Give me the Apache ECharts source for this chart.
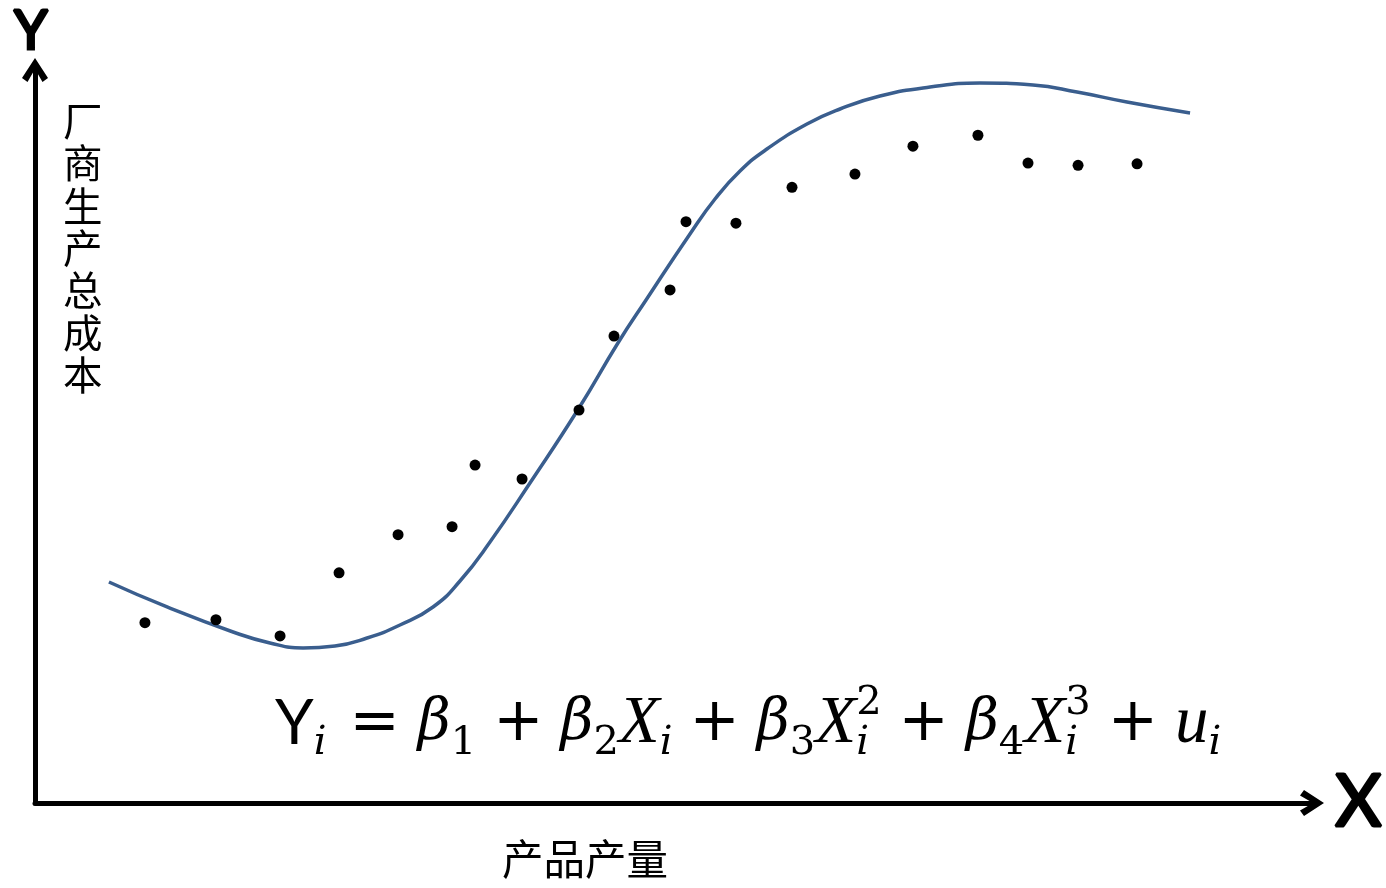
<!DOCTYPE html>
<html>
<head>
<meta charset="utf-8">
<script src="https://cdn.jsdelivr.net/npm/echarts@6/dist/echarts.min.js"></script>
<style>
html,body{margin:0;padding:0;background:#fff;}
#chart{width:1386px;height:888px;}
</style>
</head>
<body>
<div id="chart"></div>
<script>
// Observed data points (x: product output, y: total cost), arbitrary units 0-100
const dotX = [8.61, 14.17, 19.19, 23.81, 28.43, 32.66, 34.46, 38.14, 42.60, 45.34, 49.73, 50.98, 54.89, 59.28, 64.21, 68.75, 73.84, 77.76, 81.68, 86.30];
const dotY = [24.6, 25.0, 22.8, 31.4, 36.6, 37.7, 46.1, 44.2, 53.6, 63.7, 70.0, 79.3, 79.1, 84.0, 85.8, 89.6, 91.1, 87.3, 87.0, 87.2];

// Fitted cubic cost curve
const curveX = [5.79, 10.34, 15.51, 18.40, 20.99, 23.49, 26.00, 28.58, 31.17, 33.28, 35.63, 38.76, 42.60, 45.65, 47.85, 51.29, 53.25, 55.21, 57.32, 60.45, 63.04, 66.17, 70.09, 74.00, 78.15, 81.60, 85.51, 90.45];
const curveY = [30.15, 26.74, 23.33, 21.83, 21.15, 21.42, 22.51, 24.28, 26.74, 30.29, 35.61, 43.66, 53.89, 62.76, 68.62, 77.63, 82.40, 86.22, 89.22, 92.63, 94.68, 96.45, 97.68, 98.23, 97.95, 97.00, 95.63, 94.13];

const yAxisLetter = 'Y';
const xAxisLetter = 'X';
const yAxisTitle = ['厂', '商', '生', '产', '总', '成', '本'];
const xAxisTitle = '产品产量';

const chevron = 'path://M13,0 L26,20 L20.5,24 L13,11 L5.5,24 L0,20 Z';

const chart = echarts.init(document.getElementById('chart'), null, {renderer: 'canvas'});

const axisCommon = {
  type: 'value', min: 0, max: 100,
  axisLabel: {show: false}, axisTick: {show: false}, splitLine: {show: false},
  axisLine: {
    show: true, onZero: false,
    symbol: ['none', chevron], symbolSize: [26, 24],
    lineStyle: {color: '#000', width: 5, cap: 'round'}
  }
};

const base = {color: '#000', fontWeight: 'normal'};
const rs = (o) => Object.assign({}, base, o);

chart.setOption({
  animation: false,
  backgroundColor: '#fff',
  grid: {left: 35, right: 74, top: 70, bottom: 85, containLabel: false},
  xAxis: Object.assign({}, axisCommon),
  yAxis: Object.assign({}, axisCommon),
  title: [
    {
      text: yAxisLetter, left: 14, top: 5, padding: 0,
      textStyle: {fontFamily: 'Lato', fontSize: 54, fontWeight: 'normal', color: '#000', textBorderColor: '#000', textBorderWidth: 3}
    },
    {
      text: xAxisLetter, left: 1335, top: 767, padding: 0,
      textStyle: {fontFamily: 'Lato', fontSize: 72, fontWeight: 'normal', color: '#000', textBorderColor: '#000', textBorderWidth: 3}
    },
    {
      text: yAxisTitle.join('\n'), left: 63, top: 100, padding: 0,
      textStyle: {fontFamily: 'Noto Sans CJK SC', fontSize: 39.5, lineHeight: 42.3, fontWeight: 'normal', color: '#000'}
    },
    {
      text: xAxisTitle, left: 502, top: 838, padding: 0,
      textStyle: {fontFamily: 'Noto Sans CJK SC', fontSize: 41.5, fontWeight: 'normal', color: '#000'}
    },
    {
      text: '{Y|Y}{si|i}{eq|=}{b|β}{sd|1}{op|+}{b|β}{sd|2}{x|X}{si|i}{op|+}{b|β}{sd|3}{x|X}{sz|i}{su|2}{op|+}{b|β}{sd|4}{x|X}{sz|i}{su|3}{op|+}{x|u}{si|i}',
      left: 275, top: 684, padding: 0,
      textStyle: {
        fontWeight: 'normal',
        rich: {
          Y: rs({fontFamily: 'Lato', fontSize: 62, lineHeight: 80}),
          b: rs({fontFamily: 'DejaVu Serif', fontStyle: 'italic', fontSize: 57, lineHeight: 80}),
          x: rs({fontFamily: 'Liberation Serif', fontStyle: 'italic', fontSize: 67, lineHeight: 80}),
          eq: rs({fontFamily: 'DejaVu Sans', fontSize: 60, lineHeight: 80, padding: [0, 18, 0, 23]}),
          op: rs({fontFamily: 'DejaVu Sans', fontSize: 60, lineHeight: 80, padding: [0, 17, 0, 17]}),
          si: rs({fontFamily: 'DejaVu Serif', fontStyle: 'italic', fontSize: 40, lineHeight: 42, verticalAlign: 'bottom'}),
          sz: rs({fontFamily: 'DejaVu Serif', fontStyle: 'italic', fontSize: 40, lineHeight: 42, verticalAlign: 'bottom', width: 0}),
          sd: rs({fontFamily: 'DejaVu Serif', fontSize: 40, lineHeight: 42, verticalAlign: 'bottom'}),
          su: rs({fontFamily: 'DejaVu Serif', fontSize: 40, lineHeight: 42, verticalAlign: 'top'})
        }
      }
    }
  ],
  series: [
    {
      type: 'line', name: '拟合曲线',
      data: curveX.map((x, i) => [x, curveY[i]]),
      smooth: 0.5, showSymbol: false,
      lineStyle: {color: '#3A5E8E', width: 3.5}, z: 2
    },
    {
      type: 'scatter', name: '观测点',
      data: dotX.map((x, i) => [x, dotY[i]]),
      symbol: 'circle', symbolSize: 11,
      itemStyle: {color: '#000', opacity: 1}, z: 3
    }
  ]
});
</script>
</body>
</html>
